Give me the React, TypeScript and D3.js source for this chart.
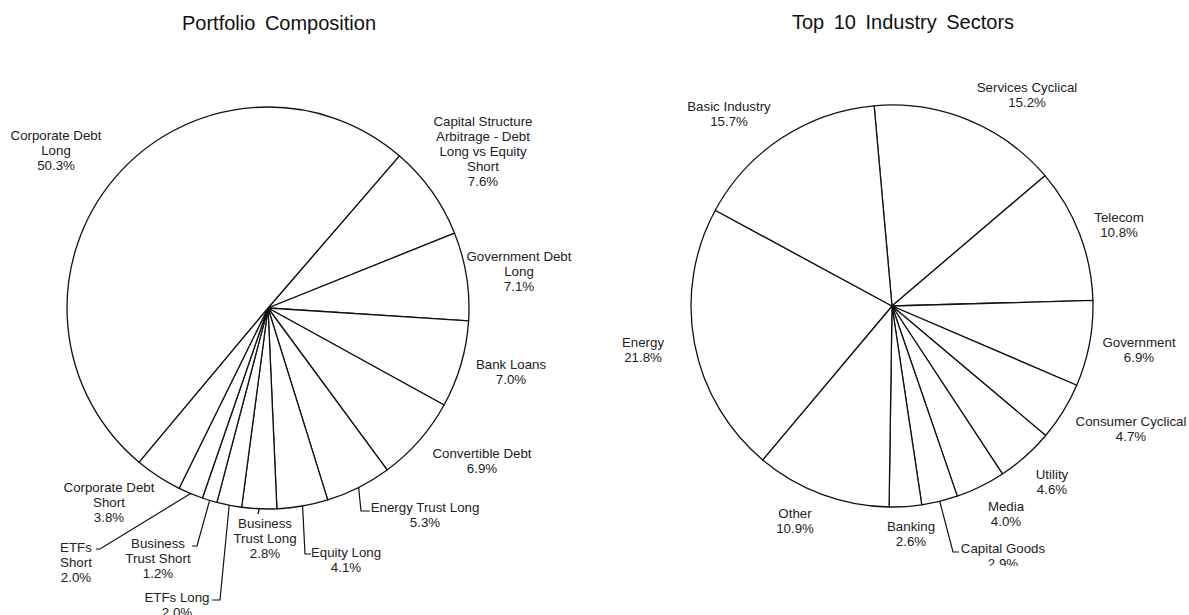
import React from "react";
import * as d3 from "d3";

// ---------- Data ----------
const portfolioCategories = [
  "Capital Structure\nArbitrage - Debt\nLong vs Equity\nShort",
  "Government Debt\nLong",
  "Bank Loans",
  "Convertible Debt",
  "Energy Trust Long",
  "Equity Long",
  "Business\nTrust Long",
  "ETFs Long",
  "Business\nTrust Short",
  "ETFs\nShort",
  "Corporate Debt\nShort",
  "Corporate Debt\nLong",
];
const portfolioValues = [7.6, 7.1, 7.0, 6.9, 5.3, 4.1, 2.8, 2.0, 1.2, 2.0, 3.8, 50.3];

const sectorCategories = [
  "Services Cyclical",
  "Telecom",
  "Government",
  "Consumer Cyclical",
  "Utility",
  "Media",
  "Capital Goods",
  "Banking",
  "Other",
  "Energy",
  "Basic Industry",
];
const sectorValues = [15.2, 10.8, 6.9, 4.7, 4.6, 4.0, 2.9, 2.6, 10.9, 21.8, 15.7];

const titles = ["Portfolio Composition", "Top 10 Industry Sectors"];

// ---------- Layout (positions only) ----------
type Leader = { elbow: [number, number]; end: [number, number] } | null;
type LabelPos = { x: number; y: number; leader: Leader };

const portfolioLabelPos: LabelPos[] = [
  { x: 483, y: 121, leader: null },
  { x: 519, y: 256, leader: null },
  { x: 511, y: 364, leader: null },
  { x: 482, y: 453, leader: null },
  { x: 425, y: 507, leader: { elbow: [361, 511], end: [370, 511] } },
  { x: 346, y: 552, leader: { elbow: [305, 554], end: [311, 554] } },
  { x: 265, y: 523, leader: { elbow: [258, 514], end: [258, 514] } },
  { x: 177, y: 597, leader: { elbow: [220, 600], end: [212, 600] } },
  { x: 158, y: 543, leader: { elbow: [197, 546], end: [192, 546] } },
  { x: 76, y: 547, leader: { elbow: [100, 549], end: [96, 549] } },
  { x: 109, y: 487, leader: null },
  { x: 56, y: 135, leader: null },
];

const sectorLabelPos: LabelPos[] = [
  { x: 1027, y: 87, leader: null },
  { x: 1119, y: 217, leader: null },
  { x: 1139, y: 342, leader: null },
  { x: 1131, y: 421, leader: null },
  { x: 1052, y: 474, leader: null },
  { x: 1006, y: 506, leader: null },
  { x: 1003, y: 548, leader: { elbow: [953, 552], end: [959, 552] } },
  { x: 911, y: 526, leader: null },
  { x: 795, y: 513, leader: null },
  { x: 643, y: 342, leader: null },
  { x: 729, y: 106, leader: null },
];

const FONT = "'Liberation Sans', Arial, sans-serif";
const LABEL_SIZE = 13.3;
const LINE_H = 15.2;
const TEXT_COLOR = "#222";
const STROKE = "#111";

type PieProps = {
  cx: number;
  cy: number;
  r: number;
  startDeg: number;
  cats: string[];
  vals: number[];
  labels: LabelPos[];
  title: string;
  titleX: number;
  titleY: number;
  clipId: string;
  clip: [number, number, number, number];
};

function PieChart(p: PieProps) {
  const start = (p.startDeg * Math.PI) / 180;
  const pie = d3
    .pie<number>()
    .sort(null)
    .value((d) => d)
    .startAngle(start)
    .endAngle(start + 2 * Math.PI);
  const arcs = pie(p.vals);
  const arc = d3.arc<d3.PieArcDatum<number>>().innerRadius(0).outerRadius(p.r);
  const edge = d3.arc<d3.PieArcDatum<number>>().innerRadius(p.r).outerRadius(p.r);
  const fmt = d3.format(".1f");

  return (
    <g>
      <defs>
        <clipPath id={p.clipId}>
          <rect x={p.clip[0]} y={p.clip[1]} width={p.clip[2]} height={p.clip[3]} />
        </clipPath>
      </defs>
      <g clipPath={`url(#${p.clipId})`}>
        <text
          x={p.titleX}
          y={p.titleY}
          textAnchor="middle"
          dominantBaseline="central"
          fontFamily={FONT}
          fontSize={20}
          wordSpacing={4}
          fill="#111"
        >
          {p.title}
        </text>
        <g transform={`translate(${p.cx},${p.cy})`}>
          {arcs.map((a, i) => (
            <path key={i} d={arc(a) || ""} fill="#fff" stroke={STROKE} strokeWidth={1.3} strokeLinejoin="round" />
          ))}
        </g>
        {arcs.map((a, i) => {
          const lp = p.labels[i];
          if (!lp.leader) return null;
          const [ex, ey] = edge.centroid(a);
          const pts: [number, number][] = [
            [ex + p.cx, ey + p.cy],
            lp.leader.elbow,
            lp.leader.end,
          ];
          return (
            <path
              key={"l" + i}
              d={d3.line()(pts) || ""}
              fill="none"
              stroke={STROKE}
              strokeWidth={1.2}
            />
          );
        })}
        {arcs.map((a, i) => {
          const lp = p.labels[i];
          const lines = [...p.cats[i].split("\n"), fmt(p.vals[i]) + "%"];
          return (
            <g key={"t" + i}>
              {lines.map((ln, j) => (
                <text
                  key={j}
                  x={lp.x}
                  y={lp.y + j * LINE_H}
                  textAnchor="middle"
                  dominantBaseline="central"
                  fontFamily={FONT}
                  fontSize={LABEL_SIZE}
                  fill={TEXT_COLOR}
                >
                  {ln}
                </text>
              ))}
            </g>
          );
        })}
      </g>
    </g>
  );
}

export default function App() {
  return (
    <svg
      width={1189}
      height={615}
      style={{ position: "absolute", left: 0, top: 0, background: "#fff" }}
    >
      <rect width={1189} height={615} fill="#fff" />
      <PieChart
        cx={268}
        cy={308}
        r={201}
        startDeg={40.8}
        cats={portfolioCategories}
        vals={portfolioValues}
        labels={portfolioLabelPos}
        title={titles[0]}
        titleX={279}
        titleY={23}
        clipId="clipL"
        clip={[0, 0, 600, 615]}
      />
      <PieChart
        cx={892}
        cy={306}
        r={201}
        startDeg={-5.1}
        cats={sectorCategories}
        vals={sectorValues}
        labels={sectorLabelPos}
        title={titles[1]}
        titleX={903}
        titleY={22}
        clipId="clipR"
        clip={[600, 0, 589, 566]}
      />
    </svg>
  );
}
